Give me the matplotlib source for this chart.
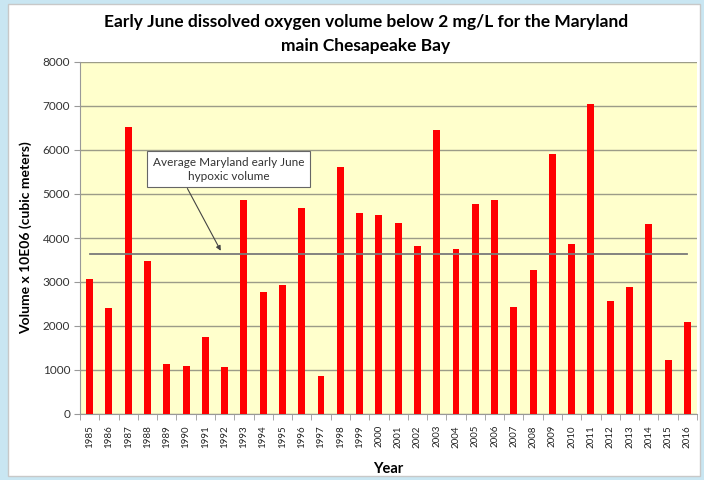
import matplotlib.pyplot as plt
import numpy as np
from matplotlib.patches import Rectangle

plt.rcParams["font.family"] = ["Lato", "DejaVu Sans"]

years = list(range(1985, 2017))
volumes = [3070, 2420, 6520, 3480, 1140, 1080, 1750, 1060, 4870, 2770,
           2930, 4675, 860, 5610, 4570, 4530, 4340, 3825, 6450, 3740,
           4770, 4860, 2430, 3280, 5915, 3860, 7045, 2575, 2885, 4325,
           1220, 2085]
average_volume = 3645
y_ticks = list(range(0, 8001, 1000))

fig = plt.figure(figsize=(7.04, 4.80), dpi=100)
fig.patch.set_facecolor("#c9e6f2")
# white chart area with thin border
fig.patches.append(Rectangle((8 / 704, 4 / 480), 692 / 704, 472 / 480,
                             transform=fig.transFigure, facecolor="white",
                             edgecolor="#c8c8c8", linewidth=1, zorder=-10))

ax = fig.add_axes([80 / 704, 1 - 414 / 480, 617 / 704, 352 / 480])
ax.set_zorder(1)
ax.set_facecolor("#ffffcc")

x = np.arange(len(years))
ax.bar(x, volumes, width=0.36, color="#ff0000", zorder=3)
ax.plot([x[0], x[-1]], [average_volume, average_volume], color="#7a7a7a",
        linewidth=1.3, zorder=4)

ax.set_xlim(-0.5, len(years) - 0.5)
ax.set_ylim(0, 8000)
ax.set_yticks(y_ticks)
ax.set_yticklabels([str(v) for v in y_ticks], fontsize=8.5, color="#333333")
ax.yaxis.grid(True, color="#9c9c88", linewidth=1)
ax.set_axisbelow(True)

ax.set_xticks(x)
ax.set_xticklabels([str(y) for y in years], rotation=90, fontsize=7, color="#222222")
ax.set_xticks(np.arange(-0.5, len(years)), minor=True)
ax.tick_params(axis="x", which="major", length=0, pad=8)
ax.tick_params(axis="x", which="minor", length=4, color="#999999")
ax.tick_params(axis="y", length=4, color="#999999", pad=3)

for side in ["top", "right"]:
    ax.spines[side].set_visible(False)
for side in ["left", "bottom"]:
    ax.spines[side].set_color("#999999")

ax.set_ylabel("Volume x 10E06 (cubic meters)", fontsize=10, fontweight="bold", labelpad=8)
ax.set_xlabel("Year", fontsize=10.5, fontweight="bold", labelpad=10)

fig.text(366 / 704, 1 - 22 / 480,
         "Early June dissolved oxygen volume below 2 mg/L for the Maryland",
         ha="center", va="center", fontsize=12.5, fontweight="bold")
fig.text(366 / 704, 1 - 46 / 480, "main Chesapeake Bay",
         ha="center", va="center", fontsize=12.5, fontweight="bold")

# note box and its arrow
ax.text(7.2, 5560, "Average Maryland early June\nhypoxic volume",
        ha="center", va="center", fontsize=8.5, color="#333333",
        linespacing=1.35,
        bbox=dict(boxstyle="square,pad=0.45", facecolor="white",
                  edgecolor="#666666", linewidth=0.8),
        zorder=5)
ax.annotate("", xy=(6.8, 3710), xytext=(5.07, 5125),
            arrowprops=dict(arrowstyle="-|>", color="#444444", linewidth=0.8,
                            shrinkA=0, shrinkB=0, mutation_scale=7),
            zorder=5)

fig.savefig("out.png", dpi=100, facecolor=fig.get_facecolor())
